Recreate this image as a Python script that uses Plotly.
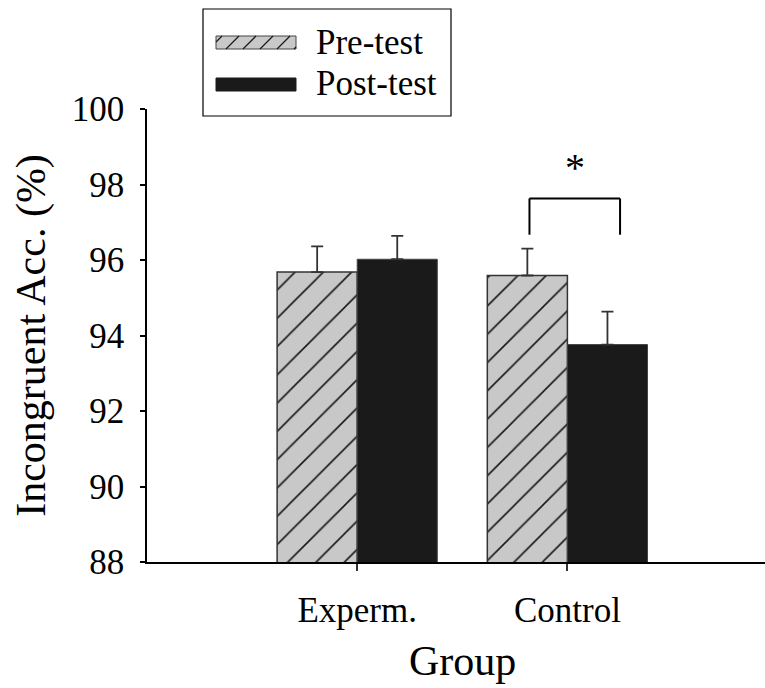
import plotly.graph_objects as go

# ---------------- data ----------------
categories = ["Experm.", "Control"]
series_names = ["Pre-test", "Post-test"]
pre_values = [95.68, 95.59]
post_values = [96.02, 93.76]
pre_err = [0.68, 0.71]
post_err = [0.62, 0.87]
y_ticks = [88, 90, 92, 94, 96, 98, 100]
x_title = "Group"
y_title = "Incongruent Acc. (%)"
sig_label = "*"
sig_group = 1          # index of category with significant difference
sig_bracket = [96.67, 97.63]   # leg bottom, bracket top (data units)
sig_star_y = 98.45

FONT = "Liberation Serif"
W, H = 765, 688
ML, MR, MT, MB = 147, 0, 109, 126
PW, PH = W - ML - MR, H - MT - MB

fig = go.Figure()
fig.add_trace(go.Bar(
    name=series_names[0], x=categories, y=pre_values,
    marker=dict(color="#c8c8c8",
                line=dict(color="#333333", width=1.5),
                pattern=dict(shape="/", bgcolor="#c8c8c8", fgcolor="#1a1a1a",
                             size=20, solidity=0.08)),
    error_y=dict(type="data", array=pre_err, arrayminus=[0, 0], symmetric=False,
                 color="#333333", thickness=1.8, width=6),
    showlegend=False,
))
fig.add_trace(go.Bar(
    name=series_names[1], x=categories, y=post_values,
    marker=dict(color="#1a1a1a", line=dict(color="#444444", width=1)),
    error_y=dict(type="data", array=post_err, arrayminus=[0, 0], symmetric=False,
                 color="#333333", thickness=1.8, width=6),
    showlegend=False,
))

bargap = 0.238
half = (1 - bargap) / 4.0   # offset of each bar centre from category centre

# significance bracket
xa = sig_group - half + 0.01
xb = sig_group + half + 0.06
for (x0, y0, x1, y1) in [(xa, sig_bracket[0], xa, sig_bracket[1]),
                         (xa, sig_bracket[1], xb, sig_bracket[1]),
                         (xb, sig_bracket[1], xb, sig_bracket[0])]:
    fig.add_shape(type="line", xref="x", yref="y", x0=x0, y0=y0, x1=x1, y1=y1,
                  line=dict(color="black", width=2))
fig.add_annotation(x=(xa + xb) / 2, y=sig_star_y, xref="x", yref="y",
                   text=sig_label, showarrow=False,
                   font=dict(family=FONT, size=40, color="black"))

# ---------------- manual legend (paper coords from pixels) ----------------
def px(xp):
    return (xp - ML) / PW

def py(yp):
    return (H - MB - yp) / PH

fig.add_shape(type="rect", xref="paper", yref="paper",
              x0=px(203), x1=px(451), y0=py(116), y1=py(9),
              line=dict(color="black", width=1.2), fillcolor="white")
# pre swatch
sx0, sx1, sy0, sy1 = 216, 296, 36, 49
fig.add_shape(type="rect", xref="paper", yref="paper",
              x0=px(sx0), x1=px(sx1), y0=py(sy1), y1=py(sy0),
              line=dict(color="#444444", width=1), fillcolor="#c8c8c8")
h = sy1 - sy0
b = sx0 - h + 6
while b < sx1:
    xs, xe = b, b + h
    ys, ye = sy1, sy0
    if xs < sx0:
        ys = sy1 - (sx0 - xs)
        xs = sx0
    if xe > sx1:
        ye = sy0 + (xe - sx1)
        xe = sx1
    if xe > xs:
        fig.add_shape(type="line", xref="paper", yref="paper",
                      x0=px(xs), y0=py(ys), x1=px(xe), y1=py(ye),
                      line=dict(color="#1a1a1a", width=1.3))
    b += 17
# post swatch
fig.add_shape(type="rect", xref="paper", yref="paper",
              x0=px(216), x1=px(296), y0=py(91), y1=py(78),
              line=dict(color="#1a1a1a", width=1), fillcolor="#1a1a1a")
for name, yc in zip(series_names, [43, 84]):
    fig.add_annotation(x=px(314), y=py(yc), xref="paper", yref="paper",
                       xanchor="left", yanchor="middle", text=name,
                       showarrow=False,
                       font=dict(family=FONT, size=35, color="black"))

# x-axis title placed as annotation (axis titles are clamped inside margins)
fig.add_annotation(x=px(462), y=py(661), xref="paper", yref="paper",
                   xanchor="center", yanchor="middle", text=x_title,
                   showarrow=False, borderpad=0,
                   font=dict(family=FONT, size=42, color="black"))

fig.update_layout(
    template="none",
    width=W, height=H,
    margin=dict(l=ML, r=MR, t=MT, b=MB, autoexpand=False),
    barmode="group", bargap=bargap, bargroupgap=0,
    plot_bgcolor="white", paper_bgcolor="white",
    font=dict(family=FONT, size=35, color="black"),
    showlegend=False,
)
fig.update_xaxes(
    type="category", range=[-1, 1.94], automargin=False,
    showline=True, linecolor="black", linewidth=1.5, mirror=False,
    ticks="outside", ticklen=7, tickwidth=1.5, tickcolor="#333333",
    showgrid=False, zeroline=False,
    tickfont=dict(family=FONT, size=35, color="black"),
    ticklabelstandoff=9,
)
fig.update_yaxes(
    range=[88, 100], tickvals=y_ticks, automargin=False,
    showline=True, linecolor="black", linewidth=1.5,
    ticks="outside", ticklen=5, tickwidth=1.5, tickcolor="black",
    showgrid=False, zeroline=False,
    tickfont=dict(family=FONT, size=35, color="black"),
    ticklabelstandoff=9,
    title=dict(text=y_title, font=dict(family=FONT, size=42, color="black"),
               standoff=13),
)

fig.write_html(
    "out.html",
    config={"displayModeBar": False},
    post_script="document.body.style.margin='0';document.body.style.padding='0';"
                "document.body.style.overflow='hidden';",
)
